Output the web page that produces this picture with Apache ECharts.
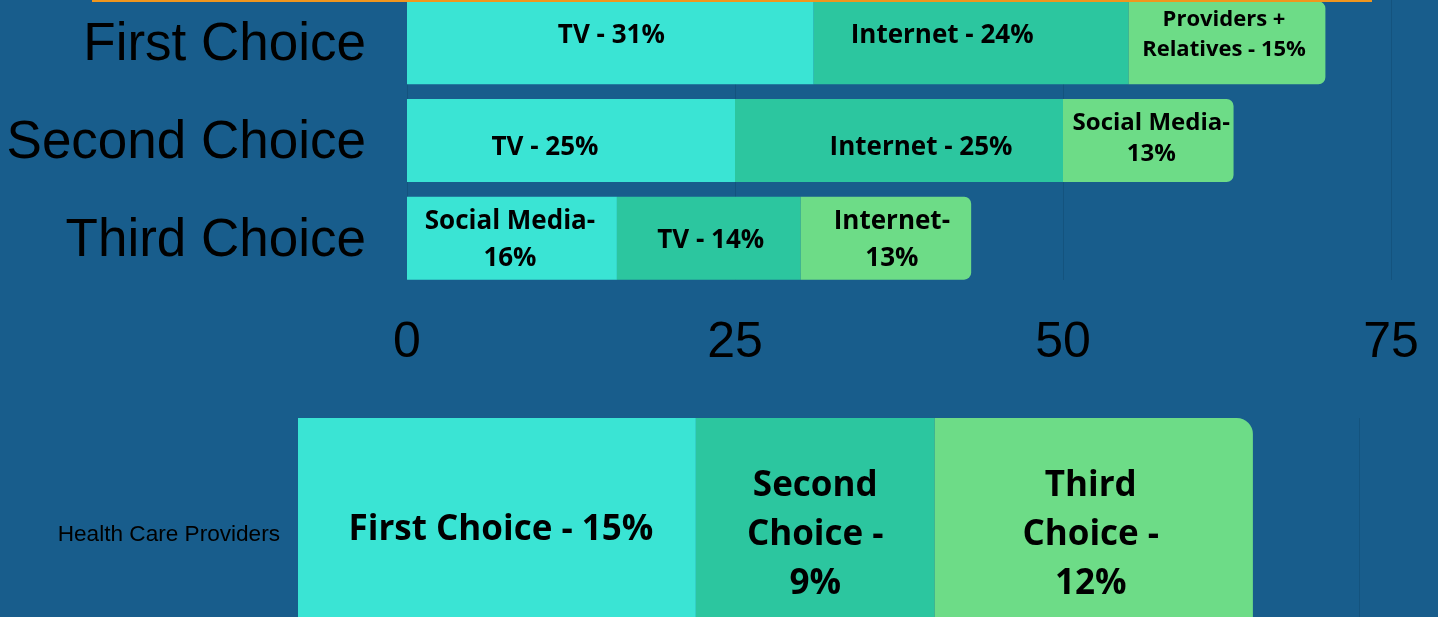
<!DOCTYPE html>
<html>
<head>
<meta charset="utf-8">
<script src="https://cdn.jsdelivr.net/npm/echarts@6/dist/echarts.min.js"></script>
<style>
html,body{margin:0;padding:0;background:#185d8c;overflow:hidden;}
#chart{position:absolute;left:0;top:-30px;width:1438px;height:710px;}
</style>
</head>
<body>
<div id="chart"></div>
<script>
// ---- data ----
var categories = ['First Choice', 'Second Choice', 'Third Choice'];
var seg1Values = [31, 25, 16];
var seg1Labels = ['TV - 31%', 'TV - 25%', 'Social Media-\n16%'];
var seg2Values = [24, 25, 14];
var seg2Labels = ['Internet - 24%', 'Internet - 25%', 'TV - 14%'];
var seg3Values = [15, 13, 13];
var seg3Labels = ['Providers +\nRelatives - 15%', 'Social Media-\n13%', 'Internet-\n13%'];
var topTicks = [0, 25, 50, 75];

var hcpCategory = ['Health Care Providers'];
var hcpValues = [15, 9, 12];
var hcpLabels = ['First Choice - 15%', 'Second\nChoice -\n9%', 'Third\nChoice -\n12%'];

// ---- styles (label sizes / nudges, kept apart from the data) ----
var C1 = '#3ae4d4', C2 = '#2cc69f', C3 = '#6ddc87';
var GRID_LINE = '#14537e';
var LABEL_FONT = "'Open Sans', sans-serif";
var AXIS_FONT = "'Liberation Sans', Arial, sans-serif";
var OFF = 30; // chart div is shifted up by this many pixels
var seg1Style = { size: [26, 26, 26], lh: [36, 36, 37], nudge: [[1, -7], [-26, 7], [-2, 2]] };
var seg2Style = { size: [26, 26, 26], lh: [36, 36, 36], nudge: [[-29, -7], [22, 7], [2, 2]] };
var seg3Style = { size: [22, 24, 26], lh: [30, 31, 37], nudge: [[-3, -8], [3, -2], [6, 2]] };
var hcpNudge = [[4, -3], [0, 2], [-3, 2]];

function mkData(values, labels, st) {
  return values.map(function (v, i) {
    return {
      value: v,
      label: { formatter: labels[i], fontSize: st.size[i], lineHeight: st.lh[i], offset: st.nudge[i] }
    };
  });
}

var chart = echarts.init(document.getElementById('chart'), null, {renderer: 'canvas'});

var topLabelBase = {
  show: true, position: 'inside', color: '#000',
  fontFamily: LABEL_FONT, fontWeight: 'bold'
};

function hcpSeries(i, color, radius) {
  return {
    type: 'bar', stack: 'hcp', xAxisIndex: 1, yAxisIndex: 1, barWidth: 230,
    itemStyle: { color: color, borderRadius: radius },
    label: {
      show: true, position: 'inside', color: '#000', fontFamily: LABEL_FONT,
      fontWeight: 'bold', fontSize: 35, lineHeight: 49, offset: hcpNudge[i],
      formatter: function () { return hcpLabels[i]; }
    },
    data: [hcpValues[i]]
  };
}

var option = {
  backgroundColor: '#185d8c',
  animation: false,
  graphic: [{
    type: 'rect', left: 92, top: OFF,
    shape: { width: 1280, height: 2 },
    style: { fill: '#f0961e' }, z: 10
  }],
  grid: [
    { left: 407, right: 47, top: OFF - 6, height: 293 },
    { left: 298, right: 79, top: OFF + 418, height: 230 },
    { left: 407, right: 47, top: OFF - 6, height: 286 }   // grid lines of the top chart
  ],
  xAxis: [
    {
      gridIndex: 0, type: 'value', min: 0, max: 75, interval: 25,
      axisLine: { show: false }, axisTick: { show: false },
      splitLine: { show: false },
      axisLabel: {
        color: '#000', fontSize: 50, margin: 31, fontFamily: AXIS_FONT,
        formatter: function (v) { return topTicks.indexOf(v) >= 0 ? String(v) : ''; }
      }
    },
    {
      gridIndex: 1, type: 'value', min: 0, max: 40, interval: 10,
      axisLine: { show: false }, axisTick: { show: false },
      splitLine: { show: true, lineStyle: { color: GRID_LINE, width: 1 } },
      axisLabel: { show: false }
    },
    {
      gridIndex: 2, type: 'value', min: 0, max: 75, interval: 25,
      axisLine: { show: false }, axisTick: { show: false },
      splitLine: { show: true, lineStyle: { color: GRID_LINE, width: 1 } },
      axisLabel: { show: false }
    }
  ],
  yAxis: [
    {
      gridIndex: 0, type: 'category', data: categories, inverse: true,
      axisLine: { show: false }, axisTick: { show: false },
      axisLabel: {
        margin: 41,
        formatter: function (v) { return '{c|' + v + '}'; },
        rich: { c: { color: '#000', fontSize: 53, fontFamily: AXIS_FONT, padding: [6, 0, 0, 0] } }
      }
    },
    {
      gridIndex: 1, type: 'category', data: hcpCategory,
      axisLine: { show: false }, axisTick: { show: false },
      axisLabel: {
        margin: 18,
        formatter: function (v) { return '{c|' + v + '}'; },
        rich: { c: { color: '#000', fontSize: 22.6, fontFamily: AXIS_FONT, padding: [4, 0, 0, 0] } }
      }
    },
    {
      gridIndex: 2, type: 'category', data: categories, show: false
    }
  ],
  series: [
    {
      type: 'bar', stack: 'top', xAxisIndex: 0, yAxisIndex: 0, barWidth: 83,
      itemStyle: { color: C1 },
      label: topLabelBase,
      data: mkData(seg1Values, seg1Labels, seg1Style)
    },
    {
      type: 'bar', stack: 'top', xAxisIndex: 0, yAxisIndex: 0, barWidth: 83,
      itemStyle: { color: C2 },
      label: topLabelBase,
      data: mkData(seg2Values, seg2Labels, seg2Style)
    },
    {
      type: 'bar', stack: 'top', xAxisIndex: 0, yAxisIndex: 0, barWidth: 83,
      itemStyle: { color: C3, borderRadius: [0, 7, 7, 0] },
      label: topLabelBase,
      data: mkData(seg3Values, seg3Labels, seg3Style)
    },
    hcpSeries(0, C1, 0),
    hcpSeries(1, C2, 0),
    hcpSeries(2, C3, [0, 16, 16, 0])
  ]
};
chart.setOption(option);
</script>
</body>
</html>
